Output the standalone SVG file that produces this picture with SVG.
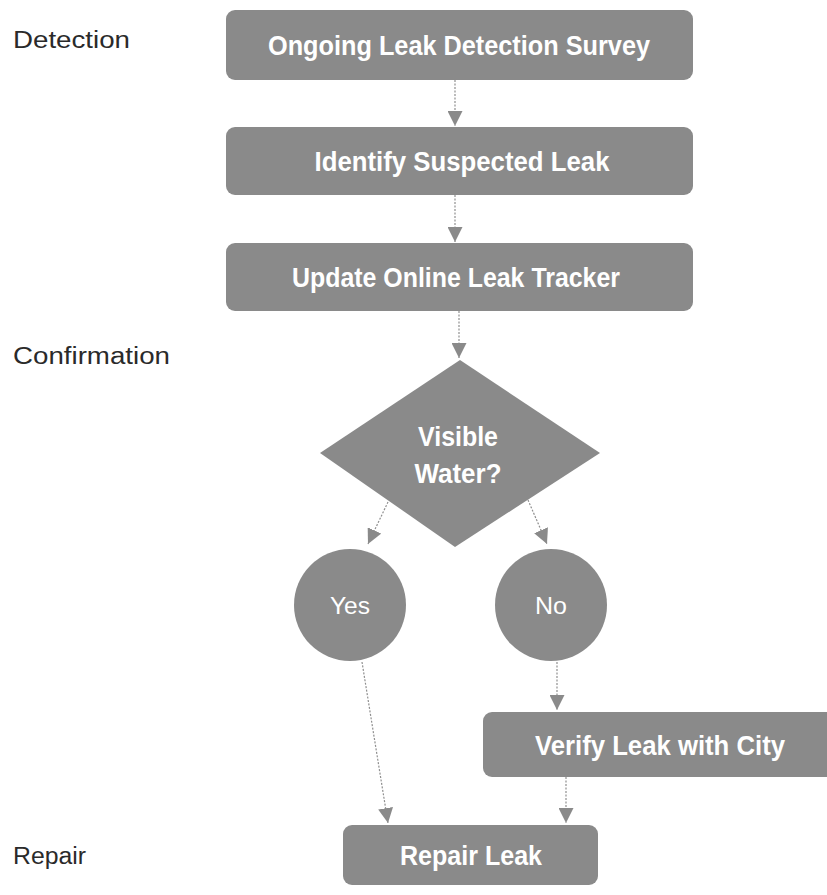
<svg xmlns="http://www.w3.org/2000/svg" width="827" height="895" viewBox="0 0 827 895">
<style>
.box{fill:#8a8a8a;}
.t{font-family:"Liberation Sans",Arial,sans-serif;font-weight:bold;fill:#ffffff;font-size:27px;}
.c{font-family:"Liberation Sans",Arial,sans-serif;fill:#ffffff;font-size:24px;}
.lab{font-family:"Liberation Sans",Arial,sans-serif;fill:#2a2a2a;font-size:23px;}
.conn{stroke:#8f8f8f;stroke-width:1.2;stroke-dasharray:2 1.5;fill:none;}
</style>
<defs>
<marker id="ah" viewBox="0 0 10 10" refX="10" refY="5" markerWidth="15" markerHeight="15" markerUnits="userSpaceOnUse" orient="auto">
<path d="M0,0 L10,5 L0,10 Z" fill="#8a8a8a"/>
</marker>
</defs>
<rect width="827" height="895" fill="#ffffff"/>
<g id="labels">
<text class="lab" x="13" y="48" textLength="117" lengthAdjust="spacingAndGlyphs">Detection</text>
<text class="lab" x="13" y="364" textLength="157" lengthAdjust="spacingAndGlyphs">Confirmation</text>
<text class="lab" x="13" y="864" textLength="73" lengthAdjust="spacingAndGlyphs">Repair</text>
</g>
<g id="connectors">
<line class="conn" x1="455" y1="80" x2="455" y2="126" marker-end="url(#ah)"/>
<line class="conn" x1="455" y1="195" x2="455" y2="242" marker-end="url(#ah)"/>
<line class="conn" x1="459" y1="311" x2="459" y2="358" marker-end="url(#ah)"/>
<line class="conn" x1="388" y1="502" x2="368" y2="544" marker-end="url(#ah)"/>
<line class="conn" x1="528" y1="500" x2="547" y2="544" marker-end="url(#ah)"/>
<line class="conn" x1="557" y1="662" x2="557" y2="710" marker-end="url(#ah)"/>
<line class="conn" x1="362" y1="662" x2="388" y2="823" marker-end="url(#ah)"/>
<line class="conn" x1="566" y1="777" x2="566" y2="823" marker-end="url(#ah)"/>
</g>
<g id="n1">
<rect class="box" x="226" y="10" width="467" height="70" rx="9"/>
<text class="t" x="459" y="55" text-anchor="middle" textLength="382" lengthAdjust="spacingAndGlyphs">Ongoing Leak Detection Survey</text>
</g>
<g id="n2">
<rect class="box" x="226" y="127" width="467" height="68" rx="9"/>
<text class="t" x="462" y="171" text-anchor="middle" textLength="295" lengthAdjust="spacingAndGlyphs">Identify Suspected Leak</text>
</g>
<g id="n3">
<rect class="box" x="226" y="243" width="467" height="68" rx="9"/>
<text class="t" x="456" y="287" text-anchor="middle" textLength="328" lengthAdjust="spacingAndGlyphs">Update Online Leak Tracker</text>
</g>
<g id="n4">
<polygon class="box" points="460,360 600,453 455,547 320,453"/>
<text class="t" x="458" y="446" text-anchor="middle" textLength="80" lengthAdjust="spacingAndGlyphs">Visible</text>
<text class="t" x="458" y="483" text-anchor="middle" textLength="87" lengthAdjust="spacingAndGlyphs">Water?</text>
</g>
<g id="n5">
<circle class="box" cx="350" cy="605" r="56"/>
<text class="c" x="350" y="614" text-anchor="middle" textLength="40" lengthAdjust="spacingAndGlyphs">Yes</text>
</g>
<g id="n6">
<circle class="box" cx="551" cy="605" r="56"/>
<text class="c" x="551" y="614" text-anchor="middle" textLength="32" lengthAdjust="spacingAndGlyphs">No</text>
</g>
<g id="n7">
<rect class="box" x="483" y="712" width="360" height="65" rx="9"/>
<text class="t" x="660" y="755" text-anchor="middle" textLength="250" lengthAdjust="spacingAndGlyphs">Verify Leak with City</text>
</g>
<g id="n8">
<rect class="box" x="343" y="825" width="255" height="60" rx="9"/>
<text class="t" x="471" y="865" text-anchor="middle" textLength="142" lengthAdjust="spacingAndGlyphs">Repair Leak</text>
</g>
</svg>
